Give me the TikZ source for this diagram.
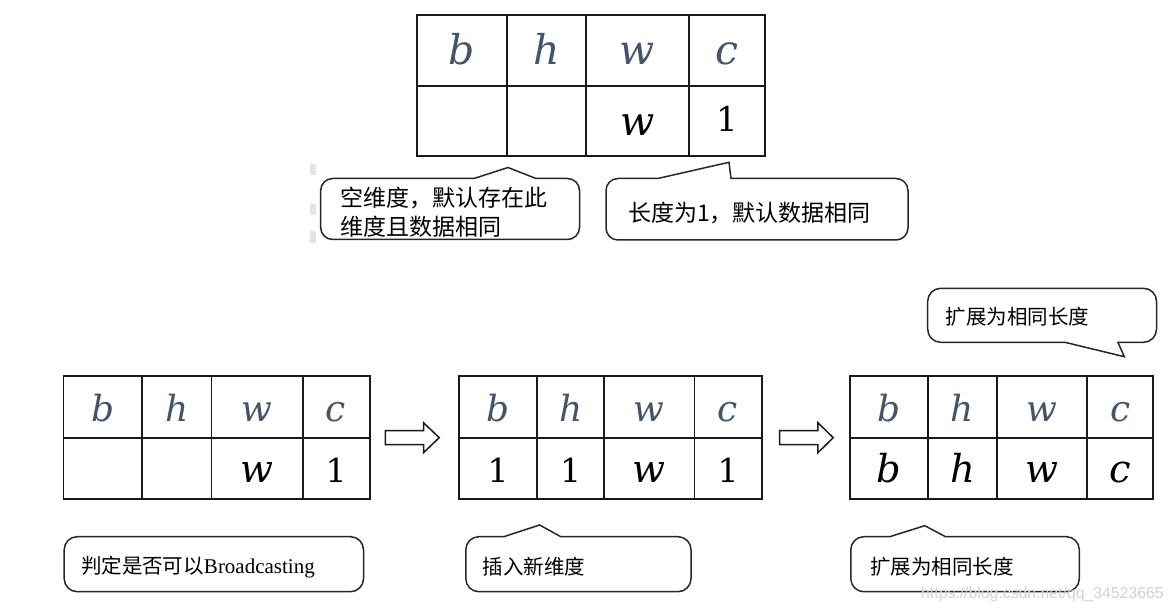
\documentclass[tikz,border=0pt]{standalone}
\usepackage{fontspec}
\setmainfont{DejaVu Serif}
\newfontfamily\cjk{Noto Sans CJK SC}
\newfontfamily\lat{Liberation Serif}
\newfontfamily\wmfont{Liberation Sans}
\definecolor{hdr}{HTML}{44546A}
\definecolor{wmgray}{HTML}{D2D2D2}
\begin{document}
\begin{tikzpicture}[x=1pt,y=-1pt,
  gridline/.style={draw=black!90, line width=1.8pt, line cap=rect},
  hdrbig/.style={anchor=base, inner sep=0pt, text=hdr, font=\fontsize{41}{41}\selectfont\itshape},
  valbig/.style={anchor=base, inner sep=0pt, text=black, font=\fontsize{40}{40}\selectfont\itshape},
  onebig/.style={anchor=base, inner sep=0pt, text=black, font=\fontsize{34}{34}\selectfont},
  hdrtxt/.style={anchor=base, inner sep=0pt, text=hdr, font=\fontsize{36}{36}\selectfont\itshape},
  valtxt/.style={anchor=base, inner sep=0pt, text=black, font=\fontsize{38.5}{38.5}\selectfont\itshape},
  onetxt/.style={anchor=base, inner sep=0pt, text=black, font=\fontsize{33}{33}\selectfont},
  cnbig/.style={anchor=west, inner sep=0pt, font=\cjk\fontsize{23}{28}\selectfont},
  cnsmall/.style={anchor=west, inner sep=0pt, font=\cjk\fontsize{20.5}{24}\selectfont},
  callout/.style={draw=black!85, line width=1.5pt, line join=miter},
  blockarrow/.style={draw=black!90, line width=1.5pt, fill=white, line join=miter},
  artifact/.style={fill=black!10, draw=none}
]
\useasboundingbox (0,0) rectangle (1171,612);

% faint artifacts at left of first callout
\fill[artifact] (310,163) -- (316,165) -- (316,175) -- (310,175) -- cycle;
\fill[artifact] (310,203) -- (316,205) -- (316,215) -- (310,215) -- cycle;
\fill[artifact] (310,230) -- (316,232) -- (316,243) -- (310,243) -- cycle;

% ---------- top table ----------
\draw[gridline] (417.3,15) rectangle (765,155.7);
\draw[gridline] (417.3,85.7) -- (765,85.7);
\foreach \x in {506.7,585.7,689} \draw[gridline] (\x,15) -- (\x,155.7);
\node[hdrbig] (tb) at (462,65) {b};
\node[hdrbig] (th) at (546.2,65) {h};
\node[hdrbig] (tw) at (637.3,65) {w};
\node[hdrbig] (tc) at (727,65) {c};
\node[valbig] (tvw) at (637.3,136) {w};
\node[onebig] (tv1) at (727,132) {1};

% ---------- top callouts ----------
\draw[callout] (320.7,190.5) arc[start angle=180,end angle=270,radius=12]
  -- (474,178.5) -- (508,167.5) -- (536,178.5) -- (567.5,178.5)
  arc[start angle=270,end angle=360,radius=12] -- (579.5,227.5)
  arc[start angle=0,end angle=90,radius=12] -- (332.7,239.5)
  arc[start angle=90,end angle=180,radius=12] -- cycle;
\node[cnbig] (c1a) at (340.7,198.3) {空维度，默认存在此};
\node[cnbig] (c1b) at (340.7,226.7) {维度且数据相同};

\draw[callout] (606,190.5) arc[start angle=180,end angle=270,radius=12]
  -- (657.7,178.5) -- (729,162.3) -- (731,178.5) -- (896,178.5)
  arc[start angle=270,end angle=360,radius=12] -- (908,228)
  arc[start angle=0,end angle=90,radius=12] -- (618,240)
  arc[start angle=90,end angle=180,radius=12] -- cycle;
\node[cnbig] (c2) at (627.9,213.3) {长度为1，默认数据相同};

% ---------- bottom tables ----------
\foreach \a/\b/\c/\d/\e in {63.5/141.9/211.5/302.7/369.6, 458.8/537.3/603.9/694.4/761.8, 850/927.7/997.3/1087.3/1153.3}{
  \draw[gridline] (\a,376) rectangle (\e,498.7);
  \draw[gridline] (\a,437.7) -- (\e,437.7);
  \foreach \x in {\b,\c,\d} \draw[gridline] (\x,376) -- (\x,498.7);
}
% table 1
\node[hdrtxt] (ab) at (103,421) {b};
\node[hdrtxt] (ah) at (176.7,421) {h};
\node[hdrtxt] (aw) at (257,421) {w};
\node[hdrtxt] (ac) at (336,421) {c};
\node[valtxt] (avw) at (257,482.5) {w};
\node[onetxt] (av1) at (336,482.5) {1};
% table 2
\node[hdrtxt] (bb) at (498,421) {b};
\node[hdrtxt] (bh) at (570.6,421) {h};
\node[hdrtxt] (bw) at (649.2,421) {w};
\node[hdrtxt] (bc) at (728,421) {c};
\node[onetxt] (bv1) at (498,482.5) {1};
\node[onetxt] (bv2) at (570.6,482.5) {1};
\node[valtxt] (bvw) at (649.2,482.5) {w};
\node[onetxt] (bv4) at (728,482.5) {1};
% table 3
\node[hdrtxt] (cb) at (889,421) {b};
\node[hdrtxt] (ch) at (962.5,421) {h};
\node[hdrtxt] (cw) at (1042.3,421) {w};
\node[hdrtxt] (cc) at (1120.3,421) {c};
\node[valtxt] (cvb) at (889,482.5) {b};
\node[valtxt] (cvh) at (962.5,482.5) {h};
\node[valtxt] (cvw) at (1042.3,482.5) {w};
\node[valtxt] (cvc) at (1120.3,482.5) {c};

% ---------- block arrows ----------
\draw[blockarrow] (385.4,430.7) -- (423.5,430.7) -- (423.5,422.7) -- (439.2,437.7) -- (423.5,452.7) -- (423.5,444.7) -- (385.4,444.7) -- cycle;
\draw[blockarrow] (779.6,430.7) -- (817.9,430.7) -- (817.9,422.7) -- (833.2,437.7) -- (817.9,452.7) -- (817.9,444.7) -- (779.6,444.7) -- cycle;

% ---------- bottom callouts ----------
\draw[callout, rounded corners=13pt] (64.2,536.7) rectangle (363.5,591.7);
\node[cnsmall] (d1) at (80.8,566.7) {判定是否可以{\lat\fontsize{21}{24}\selectfont Broadcasting}};

\draw[callout] (465.8,549.7) arc[start angle=180,end angle=270,radius=13]
  -- (503.8,536.7) -- (539.6,525) -- (560.8,536.7) -- (678,536.7)
  arc[start angle=270,end angle=360,radius=13] -- (691,578.7)
  arc[start angle=0,end angle=90,radius=13] -- (478.8,591.7)
  arc[start angle=90,end angle=180,radius=13] -- cycle;
\node[cnsmall] (d2) at (482.7,566.7) {插入新维度};

\draw[callout] (850.8,549.7) arc[start angle=180,end angle=270,radius=13]
  -- (889.8,536.7) -- (924.7,525.7) -- (945.5,536.7) -- (1066.3,536.7)
  arc[start angle=270,end angle=360,radius=13] -- (1079.3,578.7)
  arc[start angle=0,end angle=90,radius=13] -- (863.8,591.7)
  arc[start angle=90,end angle=180,radius=13] -- cycle;
\node[cnsmall] (d3) at (869.8,566.7) {扩展为相同长度};

\draw[callout] (927.7,301.3) arc[start angle=180,end angle=270,radius=13]
  -- (1143.5,288.3) arc[start angle=270,end angle=360,radius=13]
  -- (1156.5,329.3) arc[start angle=0,end angle=90,radius=13]
  -- (1117.9,342.3) -- (1124.3,356.7) -- (1064.9,342.3) -- (940.7,342.3)
  arc[start angle=90,end angle=180,radius=13] -- cycle;
\node[cnsmall] (d4) at (945.5,316.7) {扩展为相同长度};

% watermark
\node[anchor=west, inner sep=0pt, text=wmgray, font=\wmfont\fontsize{15.8}{18}\selectfont] (wm) at (921,594) {https://blog.csdn.net/qq\_34523665};
\end{tikzpicture}
\end{document}
